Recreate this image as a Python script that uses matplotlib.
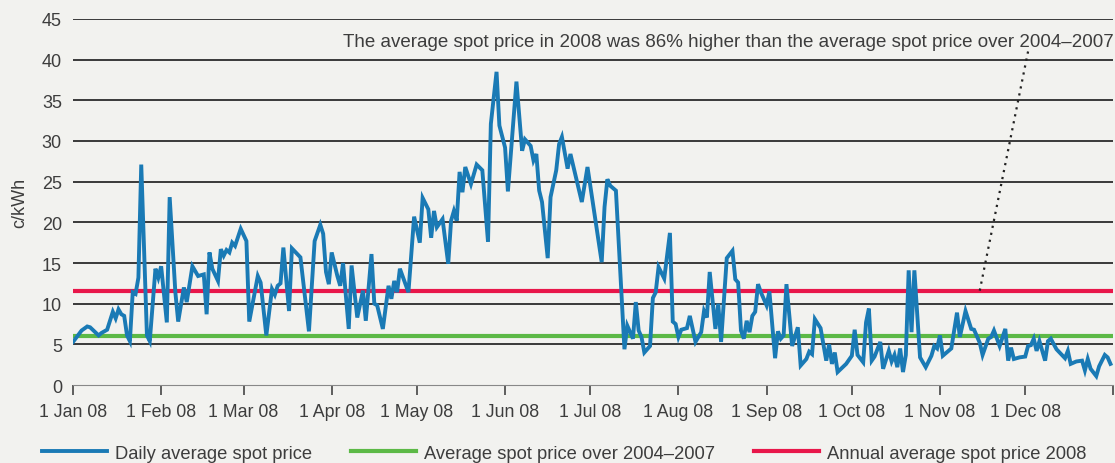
import numpy as np
import matplotlib
import matplotlib.pyplot as plt

matplotlib.use('Agg')

# daily average spot price 2008 (c/kWh) at each visible vertex
# day_of_year: 0 = 1 Jan 08
day_of_year = [
    0, 3, 5, 6, 9, 10, 12, 14, 15, 16, 17, 18, 19, 20, 21, 22, 23, 24, 26, 27,
    29, 30, 31, 33, 34, 36, 37, 39, 40, 42, 44, 46, 47, 48, 49, 51, 52, 53, 54, 55,
    56, 57, 59, 61, 62, 65, 66, 68, 70, 71, 72, 73, 74, 76, 77, 80, 83, 85, 87, 88,
    89, 90, 91, 93, 94, 95, 96, 97, 98, 100, 102, 103, 105, 106, 107, 109, 111, 112, 113, 114,
    115, 118, 120, 122, 123, 125, 126, 127, 128, 130, 132, 133, 134, 135, 136, 137, 138, 140, 142, 144,
    146, 147, 149, 150, 152, 153, 156, 158, 159, 161, 162, 163, 164, 165, 167, 168, 170, 171, 172, 174,
    175, 179, 181, 186, 187, 188, 189, 191, 194, 195, 197, 198, 199, 200, 201, 203, 204, 205, 206, 208,
    210, 211, 212, 213, 214, 216, 217, 219, 221, 222, 223, 224, 226, 227, 228, 230, 232, 233, 234, 235,
    236, 237, 238, 239, 240, 241, 242, 244, 245, 247, 248, 249, 250, 251, 253, 255, 256, 258, 259, 260,
    261, 263, 265, 266, 267, 268, 269, 272, 274, 275, 276, 278, 279, 280, 281, 282, 284, 285, 287, 288,
    289, 290, 291, 292, 293, 294, 295, 296, 298, 300, 302, 303, 304, 305, 306, 308, 309, 311, 312, 314,
    316, 317, 319, 320, 322, 323, 324, 326, 328, 329, 330, 331, 333, 335, 336, 337, 338, 339, 340, 342,
    343, 344, 346, 349, 350, 351, 353, 355, 356, 357, 358, 360, 361, 363, 364, 365,
]
daily_price = [
    5.3, 6.7, 7.2, 7.1, 6.1, 6.4, 6.8, 9.0, 8.2, 9.3, 8.7, 8.5, 6.1, 5.4, 11.4, 11.2, 13.2, 27.1, 6.1, 5.4,
    14.3, 13.2, 14.6, 7.7, 23.1, 11.4, 7.8, 12.0, 10.2, 14.6, 13.4, 13.6, 8.7, 16.3, 14.3, 12.8, 16.7, 15.9, 16.6, 16.3,
    17.5, 17.1, 19.2, 17.7, 7.8, 13.4, 12.6, 6.1, 11.8, 11.1, 12.2, 12.5, 16.9, 9.1, 16.8, 15.7, 6.6, 17.7, 19.7, 18.6,
    13.9, 12.4, 16.3, 13.4, 12.2, 15.0, 11.0, 6.9, 14.7, 8.3, 11.6, 7.9, 16.1, 10.0, 9.8, 6.9, 12.2, 10.6, 12.8, 11.4,
    14.3, 11.4, 20.7, 17.5, 23.0, 21.6, 18.1, 21.4, 19.4, 20.4, 14.9, 20.2, 21.4, 20.2, 26.2, 23.7, 26.8, 24.7, 27.1, 26.4,
    17.6, 32.1, 38.5, 31.9, 29.2, 23.8, 37.3, 28.8, 30.2, 29.4, 27.6, 28.4, 23.9, 22.5, 15.6, 23.1, 26.4, 29.6, 30.5, 26.6,
    28.4, 22.5, 26.8, 15.1, 21.9, 25.3, 24.5, 23.9, 4.4, 7.3, 5.7, 10.2, 6.7, 5.9, 4.0, 4.8, 10.7, 11.4, 14.5, 13.1,
    18.7, 7.8, 7.5, 5.9, 6.8, 7.0, 8.5, 5.3, 6.5, 9.1, 8.3, 13.9, 6.9, 10.0, 5.3, 15.6, 16.5, 13.0, 12.6, 6.7,
    5.7, 7.9, 6.5, 8.5, 9.0, 12.4, 11.4, 9.8, 11.5, 3.3, 6.6, 5.7, 6.1, 12.4, 4.8, 7.1, 2.4, 3.2, 4.1, 3.8,
    8.1, 7.0, 3.0, 5.0, 2.6, 4.0, 1.6, 2.6, 3.6, 6.8, 3.7, 2.8, 7.7, 9.4, 3.0, 3.5, 5.3, 2.0, 4.2, 2.9,
    3.7, 2.2, 4.5, 1.6, 3.7, 14.1, 6.5, 14.1, 3.4, 2.2, 3.6, 4.8, 4.5, 6.1, 3.6, 4.2, 4.5, 8.9, 5.9, 9.1,
    6.9, 6.8, 5.2, 3.7, 5.7, 5.9, 6.7, 4.8, 6.9, 3.0, 4.6, 3.2, 3.4, 3.5, 4.8, 4.9, 5.7, 4.2, 5.4, 3.0,
    5.4, 5.7, 4.4, 3.3, 4.2, 2.6, 2.9, 3.0, 1.8, 3.2, 2.0, 1.1, 2.3, 3.7, 3.4, 2.6,
]
avg_2004_2007 = 6.0
avg_2008 = 11.5

month_labels = ['1 Jan 08', '1 Feb 08', '1 Mar 08', '1 Apr 08', '1 May 08', '1 Jun 08',
                '1 Jul 08', '1 Aug 08', '1 Sep 08', '1 Oct 08', '1 Nov 08', '1 Dec 08']
y_ticks = [0, 5, 10, 15, 20, 25, 30, 35, 40, 45]

note = 'The average spot price in 2008 was 86% higher than the average spot price over 2004\u20132007'

BG = '#f2f2ef'
TXT = '#3d3d3d'
BLUE = '#1a7ab5'
GREEN = '#5cb946'
RED = '#e8174a'

plt.rcParams['font.family'] = ['Liberation Sans', 'DejaVu Sans']

start = np.datetime64('2008-01-01')
dates = start + np.array(day_of_year).astype('timedelta64[D]')
x_start = start
x_end = np.datetime64('2009-01-01')

fig = plt.figure(figsize=(11.15, 4.64), dpi=100, facecolor=BG)
ax = fig.add_axes([0.0655, 0.168, 0.933, 0.789])
ax.set_facecolor(BG)

for v in y_ticks[1:]:
    ax.axhline(v, color='#2b2b2b', lw=1.3, zorder=1)

ax.plot([x_start, x_end], [avg_2004_2007] * 2, color=GREEN, lw=3, zorder=2,
        label='Average spot price over 2004\u20132007')
ax.plot([x_start, x_end], [avg_2008] * 2, color=RED, lw=3, zorder=2,
        label='Annual average spot price 2008')
ax.plot(dates, daily_price, color=BLUE, lw=2.8, zorder=3, solid_joinstyle='miter',
        label='Daily average spot price')

# annotation pointer
ax.plot([start + np.timedelta64(336, 'D'), start + np.timedelta64(319, 'D')], [41.0, 11.6],
        color='#222222', lw=1.6, linestyle=(0, (1, 2.2)), zorder=4)
ax.text(x_end, 42.2, note, ha='right', va='center', fontsize=13.5, color=TXT)

ax.set_xlim(x_start, x_end)
ax.set_ylim(0, 45)
ax.set_yticks(y_ticks)
ax.set_ylabel('c/kWh', fontsize=13, color=TXT, labelpad=10)

month_starts = [np.datetime64('2008-%02d-01' % m) for m in range(1, 13)] + [x_end]
ax.set_xticks(month_starts)
ax.set_xticklabels(month_labels + [''])

ax.tick_params(axis='y', length=0, labelsize=13, labelcolor=TXT, pad=8)
ax.tick_params(axis='x', direction='out', length=7, width=1.2, color='#444444',
               labelsize=12.8, labelcolor=TXT, pad=6)
for s in ['top', 'right', 'left']:
    ax.spines[s].set_visible(False)
ax.spines['bottom'].set_color('#888888')
ax.spines['bottom'].set_linewidth(0.8)

handles, labels = ax.get_legend_handles_labels()
order = [2, 0, 1]
leg = fig.legend([handles[i] for i in order], [labels[i] for i in order],
                 loc='center left', bbox_to_anchor=(0.0377, 0.021), ncol=3, frameon=False,
                 fontsize=13.2, handlelength=3.55, handletextpad=0.45, columnspacing=2.1,
                 borderpad=0, borderaxespad=0)
for t in leg.get_texts():
    t.set_color(TXT)

fig.savefig('out.png', dpi=100, facecolor=BG)
